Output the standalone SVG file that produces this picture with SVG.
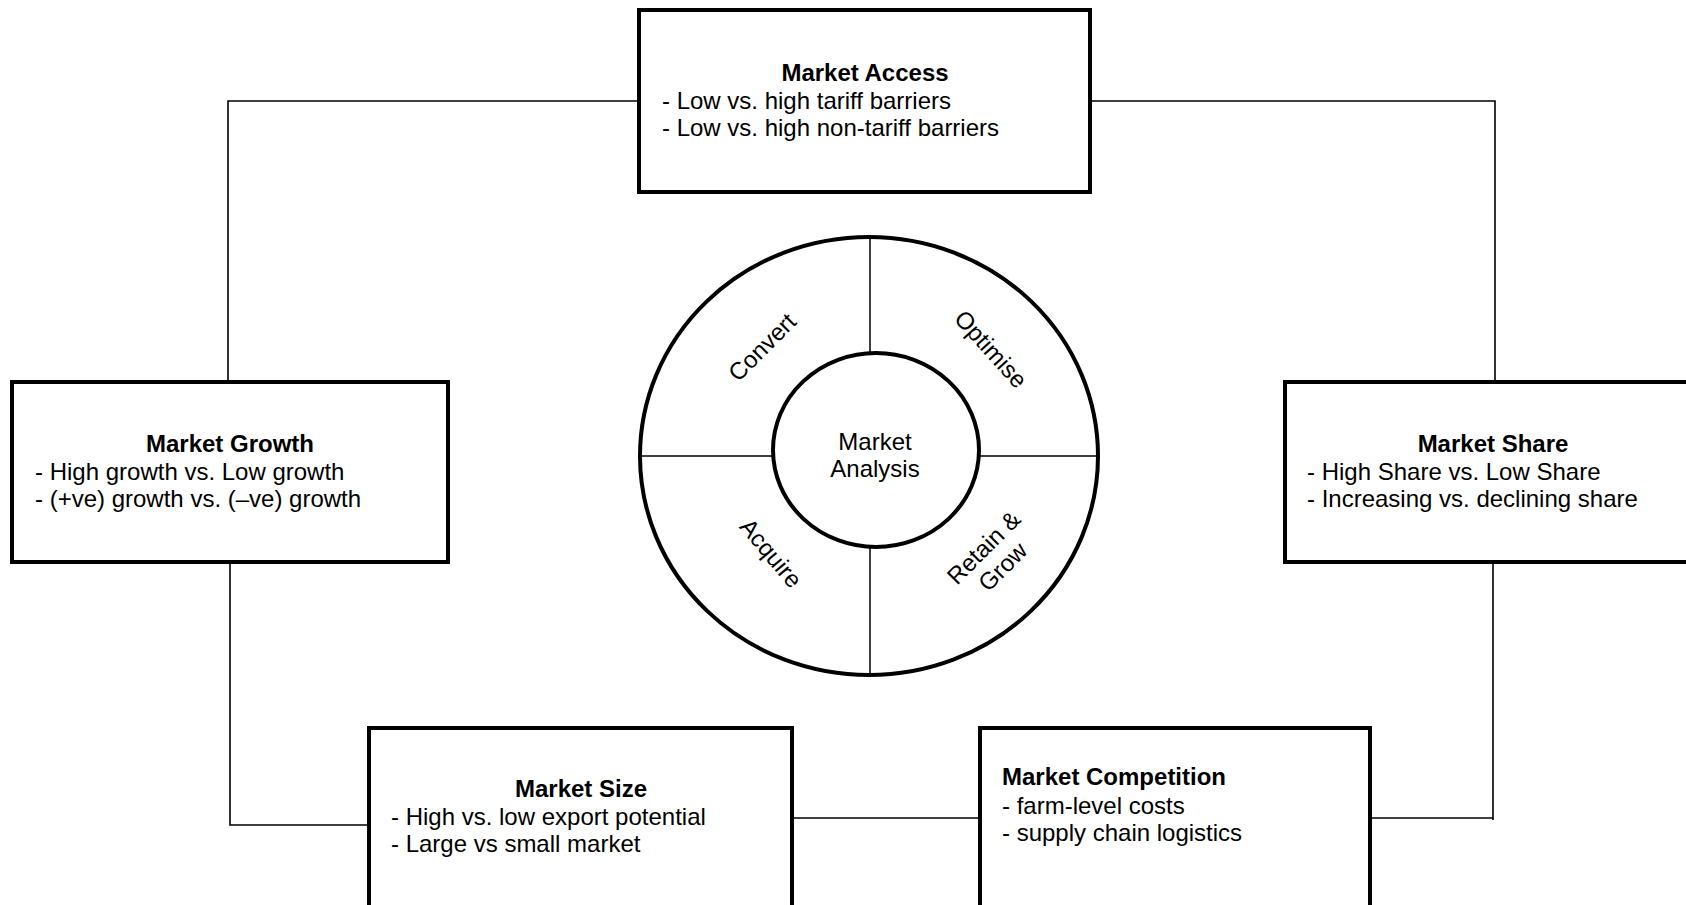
<svg xmlns="http://www.w3.org/2000/svg" width="1686" height="905" viewBox="0 0 1686 905">
<style>
text{font-family:"Liberation Sans",Arial,sans-serif;font-size:24px;fill:#000}
.t{font-weight:bold;text-anchor:middle}
.tl{font-weight:bold}
.c{text-anchor:middle}
.box{fill:#fff;stroke:#000;stroke-width:4}
.conn{fill:none;stroke:#000;stroke-width:1.6}
.ring{fill:#fff;stroke:#000;stroke-width:4}
.div{fill:none;stroke:#000;stroke-width:1.5}
</style>
<rect width="1686" height="905" fill="#fff"/>
<g id="connectors">
<polyline class="conn" points="639,101 228,101 228,382"/>
<polyline class="conn" points="1090,101 1495,101 1495,382"/>
<polyline class="conn" points="230,562 230,825 369,825"/>
<line class="conn" x1="788" y1="818" x2="980" y2="818"/>
<polyline class="conn" points="1370,818 1493,818 1493,820 1493,562"/>
</g>
<g id="market-access">
<rect class="box" x="639" y="10" width="451" height="182"/>
<text class="t" x="865" y="81">Market Access</text>
<text x="662" y="109">- Low vs. high tariff barriers</text>
<text x="662" y="136">- Low vs. high non-tariff barriers</text>
</g>
<g id="market-growth">
<rect class="box" x="12" y="382" width="436" height="180"/>
<text class="t" x="230" y="452">Market Growth</text>
<text x="35" y="480">- High growth vs. Low growth</text>
<text x="35" y="507">- (+ve) growth vs. (–ve) growth</text>
</g>
<g id="market-share">
<rect class="box" x="1285" y="382" width="420" height="180"/>
<text class="t" x="1493" y="452">Market Share</text>
<text x="1307" y="480">- High Share vs. Low Share</text>
<text x="1307" y="507">- Increasing vs. declining share</text>
</g>
<g id="market-size">
<rect class="box" x="369" y="728" width="423" height="200"/>
<text class="t" x="581" y="797">Market Size</text>
<text x="391" y="825">- High vs. low export potential</text>
<text x="391" y="852">- Large vs small market</text>
</g>
<g id="market-competition">
<rect class="box" x="980" y="728" width="390" height="200"/>
<text class="tl" x="1002" y="785">Market Competition</text>
<text x="1002" y="814">- farm-level costs</text>
<text x="1002" y="841">- supply chain logistics</text>
</g>
<g id="market-analysis-wheel">
<ellipse class="ring" cx="869" cy="456" rx="229" ry="219"/>
<line class="div" x1="870" y1="237" x2="870" y2="353"/>
<line class="div" x1="870" y1="548" x2="870" y2="675"/>
<line class="div" x1="640" y1="456" x2="773" y2="456"/>
<line class="div" x1="980" y1="456" x2="1098" y2="456"/>
<ellipse class="ring" cx="876" cy="450" rx="103" ry="97"/>
<text class="c" x="875" y="450">Market</text>
<text class="c" x="875" y="477">Analysis</text>
<g id="convert" transform="translate(762,347) rotate(-45)"><text class="c" x="0" y="8.5">Convert</text></g>
<g id="optimise" transform="translate(990,350) rotate(48)"><text class="c" x="0" y="7">Optimise</text></g>
<g id="acquire" transform="translate(770,554) rotate(50)"><text class="c" x="0" y="7">Acquire</text></g>
<g id="retain-grow" transform="translate(993,557) rotate(-45)"><text class="c" x="0" y="-5">Retain &amp;</text><text class="c" x="0" y="22">Grow</text></g>
</g>
</svg>
